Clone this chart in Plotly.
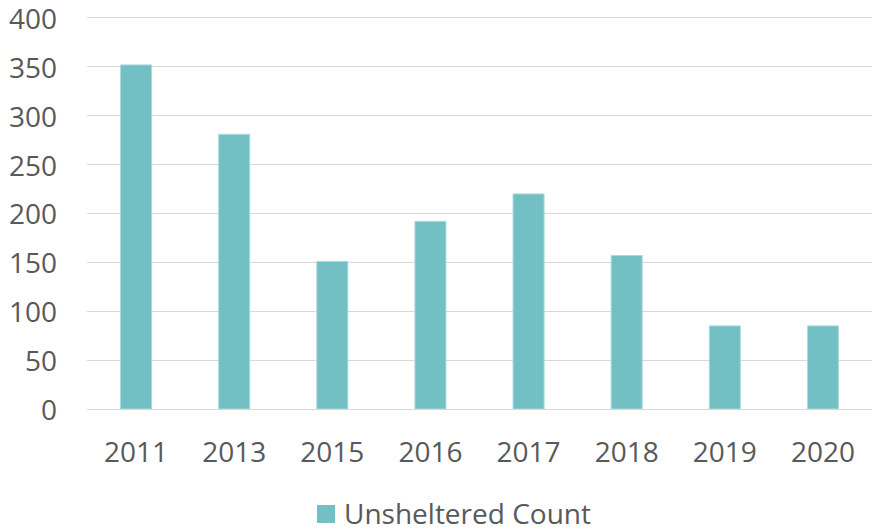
import plotly.graph_objects as go

years = ["2011", "2013", "2015", "2016", "2017", "2018", "2019", "2020"]
unsheltered = [352, 281, 151, 192, 220, 157, 85, 85]
series_name = "Unsheltered Count"
y_ticks = [0, 50, 100, 150, 200, 250, 300, 350, 400]

bar_color = "#72BFC4"
text_color = "#595959"
font_family = "Open Sans"

fig = go.Figure()
fig.add_trace(go.Bar(
    x=years, y=unsheltered, name=series_name,
    marker=dict(color=bar_color, line=dict(color="#A9DADD", width=1)),
    showlegend=False,
))

# y tick labels as annotations tied to the y axis (so the top one is not hidden)
for v in y_ticks:
    fig.add_annotation(text=str(v), xref="paper", yref="y", x=0, y=v,
                       xanchor="right", yanchor="middle", xshift=-28,
                       showarrow=False, font=dict(size=28, color=text_color))

# legend drawn as swatch + label (bigger swatch than plotly's built-in)
fig.add_shape(type="rect", xref="paper", yref="paper",
              x0=0.293, x1=0.316, y0=-0.2443, y1=-0.290,
              fillcolor=bar_color, line=dict(width=0))
fig.add_annotation(text=series_name, xref="paper", yref="paper",
                   x=0.325, y=-0.265, xanchor="left", yanchor="middle",
                   showarrow=False, font=dict(size=28, color=text_color))

fig.update_layout(
    width=873, height=529,
    margin=dict(l=87, r=1, t=16, b=120, autoexpand=False),
    paper_bgcolor="white", plot_bgcolor="white",
    bargap=0.684,
    font=dict(family=font_family, size=28, color=text_color),
    xaxis=dict(type="category", showgrid=False, showline=False, ticks="",
               automargin=False, ticklabelstandoff=24,
               tickfont=dict(size=28, color=text_color)),
    yaxis=dict(range=[0, 402], tickvals=y_ticks, showgrid=True,
               gridcolor="#D9D9D9", gridwidth=1.3, zeroline=True,
               zerolinecolor="#D9D9D9", zerolinewidth=1.3, showline=False,
               automargin=False, ticks="", showticklabels=False),
    showlegend=False,
)

fig.write_html(
    "out.html",
    config={"displayModeBar": False},
    post_script="document.body.style.margin='0';document.body.style.overflow='hidden';",
)
